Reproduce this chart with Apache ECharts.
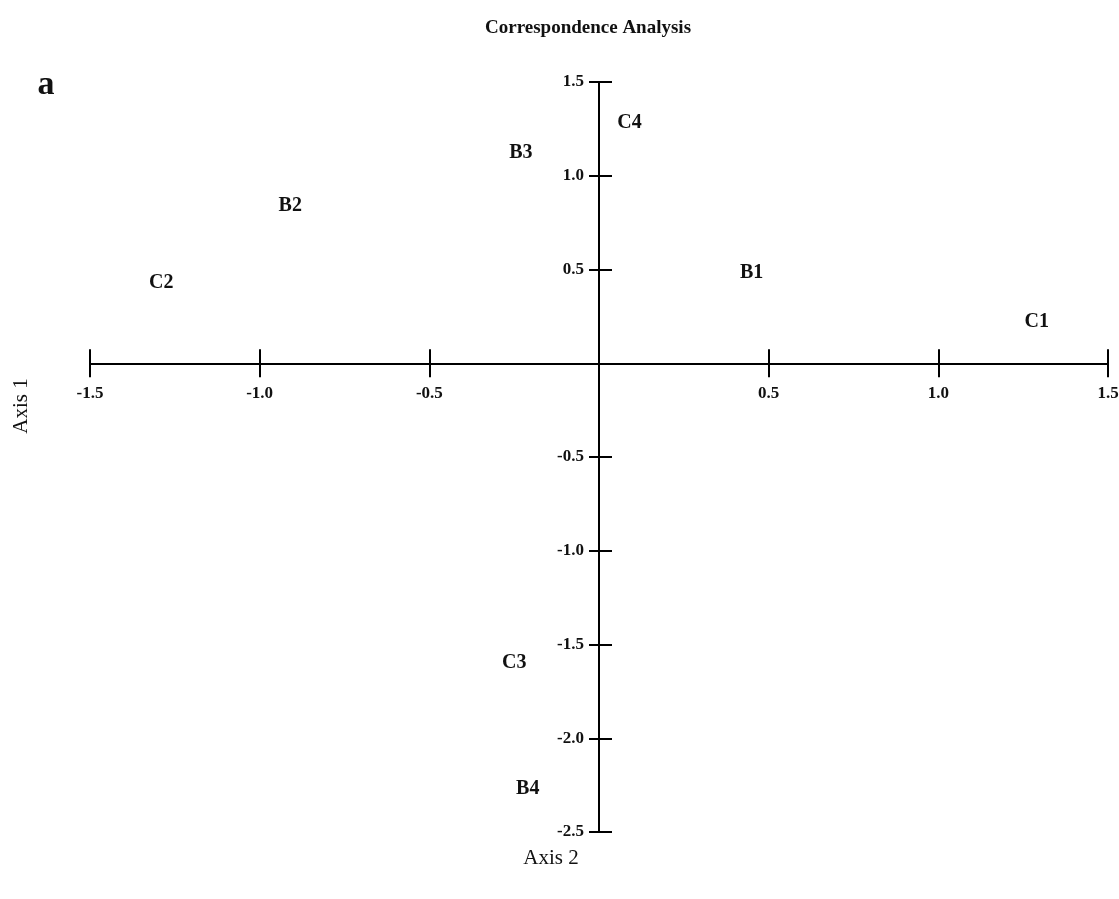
<!DOCTYPE html>
<html>
<head>
<meta charset="utf-8">
<title>Correspondence Analysis</title>
<script src="https://cdn.jsdelivr.net/npm/echarts@6/dist/echarts.min.js"></script>
<style>
  html, body { margin: 0; padding: 0; background: #ffffff; }
  #chart { width: 1119px; height: 899px; }
</style>
</head>
<body>
<div id="chart"></div>
<script>
// Point labels and their coordinates on the two axes
const categories = ['C4', 'B3', 'B2', 'C2', 'B1', 'C1', 'C3', 'B4'];
const axis2Values = [0.09, -0.23, -0.91, -1.29, 0.45, 1.29, -0.25, -0.21];
const axis1Values = [1.28, 1.12, 0.84, 0.43, 0.48, 0.22, -1.60, -2.27];

// Axis ranges and the ticks drawn on each axis (none at the origin)
const axis2Range = [-1.5, 1.5];
const axis1Range = [-2.5, 1.5];
const tickStep = 0.5;
const axis2Ticks = [-1.5, -1.0, -0.5, 0.5, 1.0, 1.5];
const axis1Ticks = [-2.5, -2.0, -1.5, -1.0, -0.5, 0.5, 1.0, 1.5];

const FONT = '"Liberation Serif", "Times New Roman", serif';
const INK = '#111';

// Plot area in pixels
const GRID = { left: 90, top: 82, width: 1018, height: 750 };

// Both axes cross at the origin: shift each one from its grid edge to zero
const xShift = -GRID.height * (0 - axis1Range[0]) / (axis1Range[1] - axis1Range[0]);
const yShift = -GRID.width * (0 - axis2Range[0]) / (axis2Range[1] - axis2Range[0]);

const points = categories.map((name, i) => ({
  name: name,
  value: [axis2Values[i], axis1Values[i]]
}));

const tickLabel = v => v.toFixed(1);

const axisLineStyle = { color: '#000', width: 2 };
const tickStyle = { color: '#000', width: 2 };

const chart = echarts.init(document.getElementById('chart'), null, { renderer: 'canvas' });

chart.setOption({
  backgroundColor: '#ffffff',
  animation: false,
  title: {
    text: 'Correspondence Analysis',
    left: 480,
    top: 14,
    textStyle: { fontFamily: FONT, fontSize: 19, fontWeight: 'bold', color: INK }
  },
  grid: Object.assign({ containLabel: false, outerBoundsMode: 'none' }, GRID),
  xAxis: [
    {
      type: 'value',
      position: 'bottom',
      offset: xShift,
      min: axis2Range[0], max: axis2Range[1], interval: tickStep,
      axisLine: { show: true, onZero: false, lineStyle: axisLineStyle },
      axisTick: { show: true, inside: false, length: 14, lineStyle: tickStyle, customValues: axis2Ticks },
      axisLabel: {
        show: true, margin: 22, customValues: axis2Ticks,
        formatter: tickLabel,
        fontFamily: FONT, fontSize: 17, fontWeight: 'bold', color: INK
      },
      splitLine: { show: false }
    },
    {
      type: 'value',
      position: 'bottom',
      offset: xShift,
      min: axis2Range[0], max: axis2Range[1], interval: tickStep,
      axisLine: { show: false, onZero: false },
      axisTick: { show: true, inside: true, length: 14, lineStyle: tickStyle, customValues: axis2Ticks },
      axisLabel: { show: false },
      splitLine: { show: false }
    }
  ],
  yAxis: [
    {
      type: 'value',
      position: 'left',
      offset: yShift,
      min: axis1Range[0], max: axis1Range[1], interval: tickStep,
      axisLine: { show: true, onZero: false, lineStyle: axisLineStyle },
      axisTick: { show: true, inside: false, length: 10, lineStyle: tickStyle, customValues: axis1Ticks },
      axisLabel: {
        show: true, margin: 15, customValues: axis1Ticks,
        formatter: tickLabel,
        fontFamily: FONT, fontSize: 17, fontWeight: 'bold', color: INK
      },
      splitLine: { show: false }
    },
    {
      type: 'value',
      position: 'left',
      offset: yShift,
      min: axis1Range[0], max: axis1Range[1], interval: tickStep,
      axisLine: { show: false, onZero: false },
      axisTick: { show: true, inside: true, length: 13, lineStyle: tickStyle, customValues: axis1Ticks },
      axisLabel: { show: false },
      splitLine: { show: false }
    }
  ],
  series: [
    {
      type: 'scatter',
      xAxisIndex: 0,
      yAxisIndex: 0,
      silent: true,
      symbolSize: 1,
      itemStyle: { color: 'rgba(0,0,0,0)', opacity: 1 },
      label: {
        show: true,
        position: 'inside',
        formatter: p => p.name,
        fontFamily: FONT, fontSize: 20, fontWeight: 'bold', color: INK
      },
      data: points
    }
  ],
  graphic: [
    {
      type: 'text',
      x: 46, y: 85,
      style: {
        text: 'a', fontFamily: FONT, fontSize: 34, fontWeight: 'bold',
        fill: INK, align: 'center', verticalAlign: 'middle'
      }
    },
    {
      type: 'text',
      x: 551, y: 858,
      style: {
        text: 'Axis 2', fontFamily: FONT, fontSize: 21,
        fill: INK, align: 'center', verticalAlign: 'middle'
      }
    },
    {
      type: 'text',
      x: 21, y: 406,
      rotation: Math.PI / 2,
      style: {
        text: 'Axis 1', fontFamily: FONT, fontSize: 21,
        fill: INK, align: 'center', verticalAlign: 'middle'
      }
    }
  ]
});
</script>
</body>
</html>
